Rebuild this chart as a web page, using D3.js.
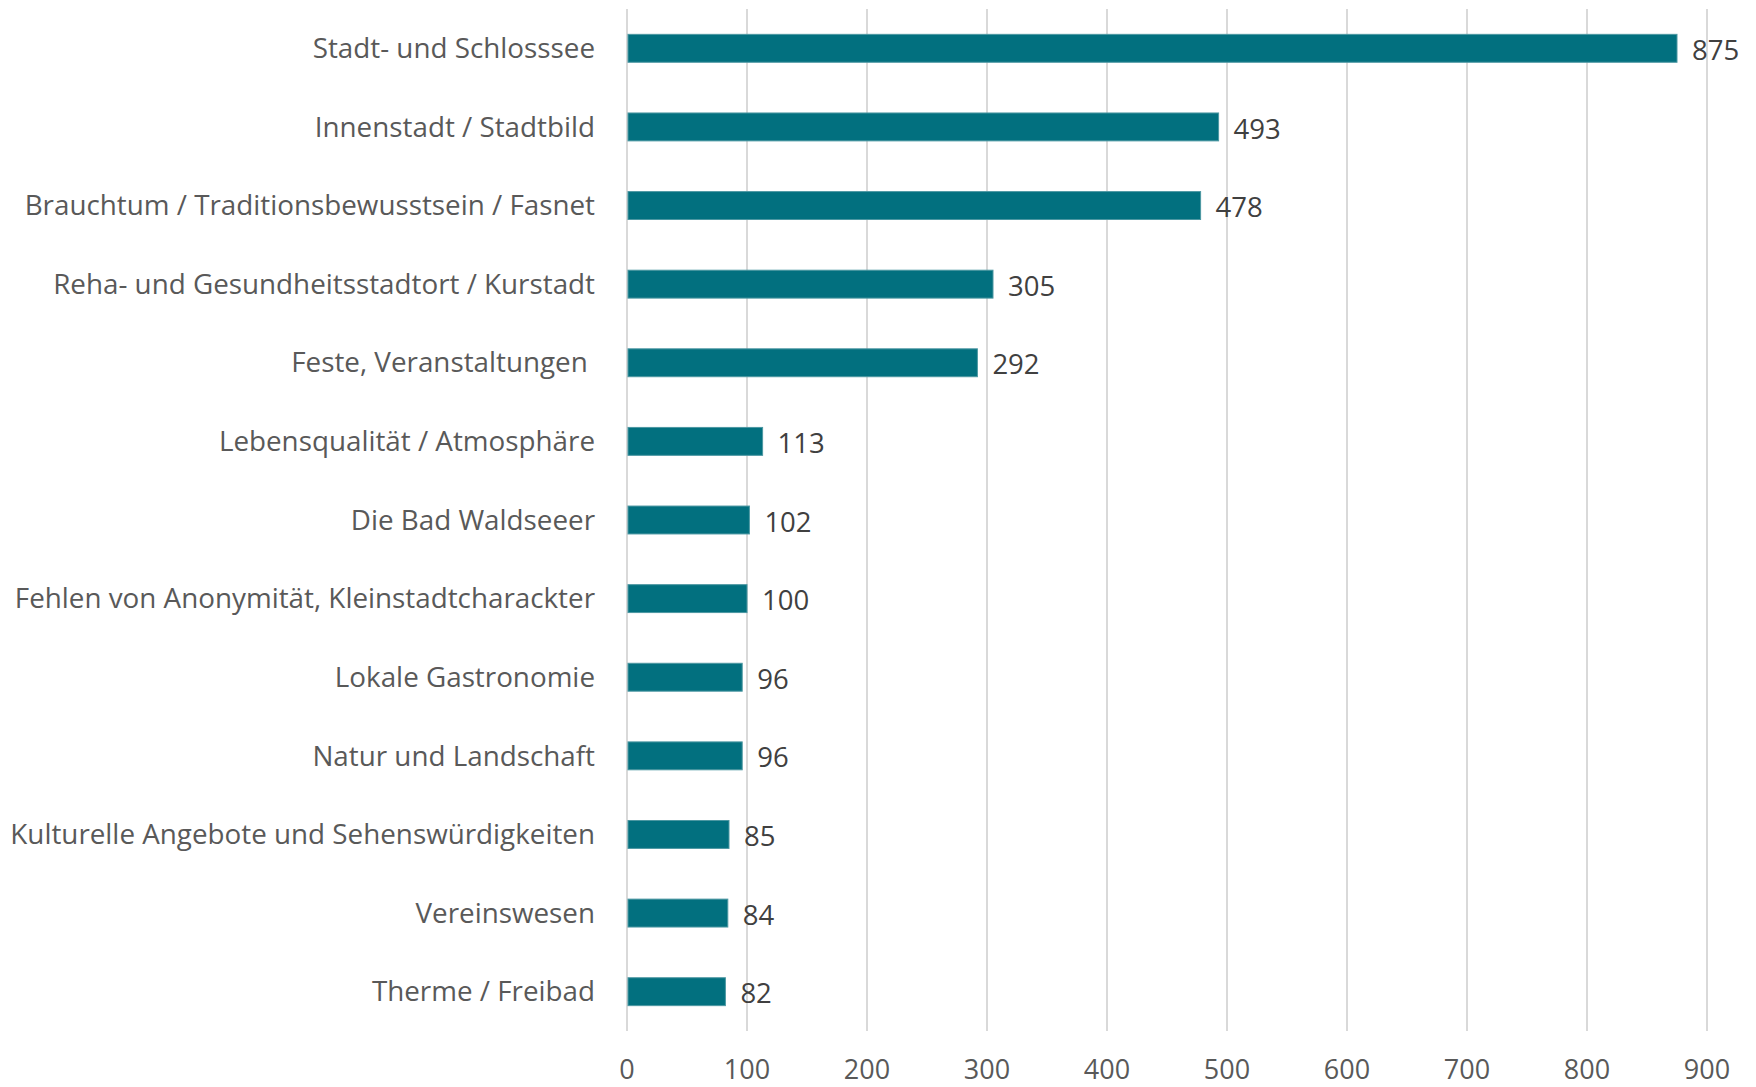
<!DOCTYPE html>
<html>
<head>
<meta charset="utf-8">
<script src="https://cdn.jsdelivr.net/npm/d3@7"></script>
<style>
  body { margin: 0; background: #fff; }
  text { font-family: "Open Sans", "Noto Sans", sans-serif; white-space: pre; }
</style>
</head>
<body>
<div id="chart"></div>
<script>
const categories = [
  "Stadt- und Schlosssee",
  "Innenstadt / Stadtbild",
  "Brauchtum / Traditionsbewusstsein / Fasnet",
  "Reha- und Gesundheitsstadtort / Kurstadt",
  "Feste, Veranstaltungen ",
  "Lebensqualität / Atmosphäre",
  "Die Bad Waldseeer",
  "Fehlen von Anonymität, Kleinstadtcharackter",
  "Lokale Gastronomie",
  "Natur und Landschaft",
  "Kulturelle Angebote und Sehenswürdigkeiten",
  "Vereinswesen",
  "Therme / Freibad"
];
const values = [875, 493, 478, 305, 292, 113, 102, 100, 96, 96, 85, 84, 82];
const xTicks = [0, 100, 200, 300, 400, 500, 600, 700, 800, 900];

/* Dimensions */
let width = 1756, height = 1087;
let margin = { top: 9, right: 50, bottom: 56, left: 627 };

let svg = d3.select('#chart')
  .append('svg')
  .attr('width', width)
  .attr('height', height);

let x = d3.scaleLinear()
  .domain([0, 900])
  .range([margin.left, margin.left + 1080]);

let y = d3.scaleBand()
  .domain(categories)
  .range([margin.top, height - margin.bottom])
  .paddingInner(0.645)
  .paddingOuter(0.3225);

// gridlines
svg.append('g')
  .selectAll('line')
  .data(xTicks)
  .enter().append('line')
  .attr('x1', d => x(d)).attr('x2', d => x(d))
  .attr('y1', margin.top).attr('y2', height - margin.bottom)
  .style('stroke', '#D9D9D9')
  .style('stroke-width', 2);

// tick labels
svg.append('g')
  .selectAll('text')
  .data(xTicks)
  .enter().append('text')
  .attr('x', d => x(d))
  .attr('y', 1070)
  .attr('dy', '0.35em')
  .attr('text-anchor', 'middle')
  .style('font-size', '27px')
  .style('fill', '#595959')
  .text(d => d);

// bars
svg.append('g')
  .selectAll('rect')
  .data(values)
  .enter().append('rect')
  .attr('x', x(0) + 1)
  .attr('y', (d, i) => y(categories[i]))
  .attr('width', d => x(d) - x(0) - 1)
  .attr('height', y.bandwidth())
  .style('fill', '#02707F')
  .style('stroke', '#4C97A2')
  .style('stroke-width', 1);

// value labels
svg.append('g')
  .selectAll('text')
  .data(values)
  .enter().append('text')
  .attr('x', d => x(d) + 15)
  .attr('y', (d, i) => y(categories[i]) + y.bandwidth() / 2 + 2)
  .attr('dy', '0.35em')
  .style('font-size', '27.5px')
  .style('fill', '#404040')
  .text(d => d);

// category labels
svg.append('g')
  .selectAll('text')
  .data(categories)
  .enter().append('text')
  .attr('x', 595)
  .attr('y', d => y(d) + y.bandwidth() / 2)
  .attr('dy', '0.35em')
  .attr('text-anchor', 'end')
  .style('font-size', '27.8px')
  .style('fill', '#595959')
  .text(d => d);
</script>
</body>
</html>
